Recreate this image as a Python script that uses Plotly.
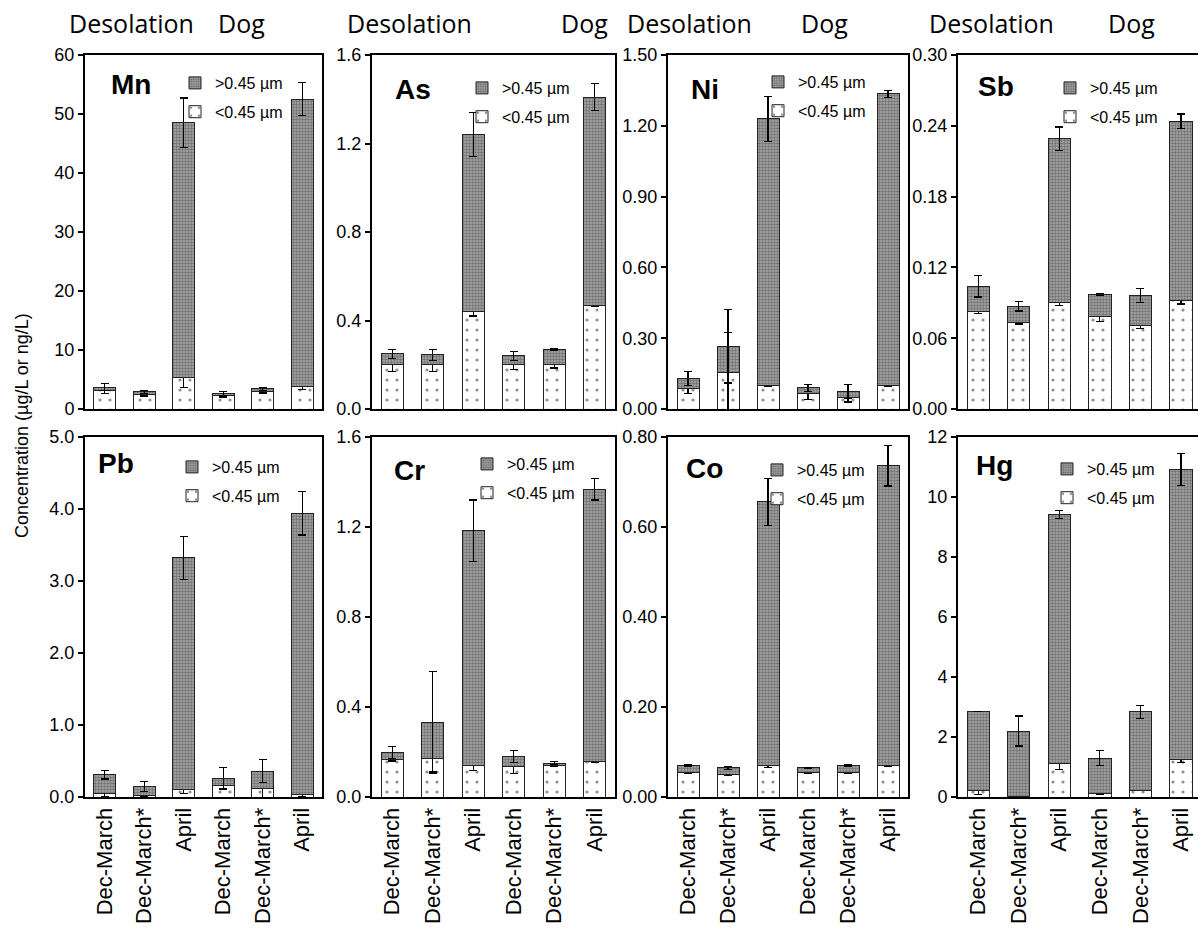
import plotly.graph_objects as go
from plotly.subplots import make_subplots

W, H = 1198, 929

categories = ["Dec-March", "Dec-March*", "April", "Dec-March", "Dec-March*", "April"]
elements = ["Mn", "As", "Ni", "Sb", "Pb", "Cr", "Co", "Hg"]

# <0.45 µm fraction (lower segment) and its error
mn_dis = [3.1, 2.5, 5.3, 2.3, 2.9, 3.8]
mn_dis_err = [0.5, 0.3, 1.6, 0.25, 0.2, 0.5]
# >0.45 µm fraction (upper segment) and error on the total
mn_part = [0.6, 0.4, 43.2, 0.3, 0.5, 48.7]
mn_tot_err = [0.6, 0.3, 4.2, 0.3, 0.2, 2.8]

as_dis = [0.20, 0.20, 0.44, 0.20, 0.20, 0.47]
as_dis_err = [0.03, 0.03, 0.02, 0.02, 0.015, 0.005]
as_part = [0.05, 0.045, 0.80, 0.04, 0.07, 0.94]
as_tot_err = [0.02, 0.025, 0.10, 0.02, 0.003, 0.06]

ni_dis = [0.085, 0.155, 0.10, 0.065, 0.05, 0.10]
ni_dis_err = [0.02, 0.17, 0.005, 0.025, 0.02, 0.005]
ni_part = [0.045, 0.11, 1.13, 0.025, 0.025, 1.235]
ni_tot_err = [0.03, 0.155, 0.095, 0.015, 0.03, 0.015]

sb_dis = [0.083, 0.073, 0.090, 0.078, 0.071, 0.092]
sb_dis_err = [0.002, 0.001, 0.002, 0.004, 0.003, 0.003]
sb_part = [0.021, 0.014, 0.139, 0.019, 0.025, 0.152]
sb_tot_err = [0.009, 0.004, 0.010, 0.001, 0.006, 0.006]

pb_dis = [0.05, 0.02, 0.10, 0.16, 0.12, 0.03]
pb_dis_err = [0.04, 0.02, 0.05, 0.05, 0.14, 0.02]
pb_part = [0.26, 0.13, 3.22, 0.10, 0.24, 3.91]
pb_tot_err = [0.06, 0.07, 0.30, 0.15, 0.16, 0.30]

cr_dis = [0.165, 0.172, 0.139, 0.135, 0.14, 0.157]
cr_dis_err = [0.005, 0.06, 0.02, 0.03, 0.005, 0.003]
cr_part = [0.032, 0.16, 1.044, 0.044, 0.01, 1.211]
cr_tot_err = [0.027, 0.225, 0.137, 0.027, 0.007, 0.048]

co_dis = [0.055, 0.050, 0.0696, 0.055, 0.055, 0.071]
co_dis_err = [0.003, 0.002, 0.004, 0.002, 0.002, 0.002]
co_part = [0.016, 0.015, 0.586, 0.010, 0.016, 0.665]
co_tot_err = [0.002, 0.003, 0.052, 0.001, 0.002, 0.045]

hg_dis = [0.22, 0.03, 1.11, 0.11, 0.22, 1.26]
hg_dis_err = [0.14, 0.01, 0.18, 0.02, 0.01, 0.12]
hg_part = [2.62, 2.17, 8.31, 1.18, 2.62, 9.66]
hg_tot_err = [0.0, 0.5, 0.13, 0.25, 0.21, 0.54]

y_max = [60, 1.6, 1.5, 0.30, 5.0, 1.6, 0.8, 12]
y_step = [10, 0.4, 0.3, 0.06, 1.0, 0.4, 0.2, 2]
y_fmt = ["d", ".1f", ".2f", ".2f", ".1f", ".1f", ".2f", "d"]

series = [
    (mn_dis, mn_dis_err, mn_part, mn_tot_err),
    (as_dis, as_dis_err, as_part, as_tot_err),
    (ni_dis, ni_dis_err, ni_part, ni_tot_err),
    (sb_dis, sb_dis_err, sb_part, sb_tot_err),
    (pb_dis, pb_dis_err, pb_part, pb_tot_err),
    (cr_dis, cr_dis_err, cr_part, cr_tot_err),
    (co_dis, co_dis_err, co_part, co_tot_err),
    (hg_dis, hg_dis_err, hg_part, hg_tot_err),
]

FONT = "Arial, Liberation Sans, sans-serif"

# panel geometry in pixels
col_px = [(85, 322), (372, 615), (668, 908), (958, 1198)]
row_px = [(55, 409), (437, 797)]

fig = make_subplots(rows=2, cols=4)

x = list(range(len(categories)))
for k, (dis, dis_err, part, tot_err) in enumerate(series):
    r, c = divmod(k, 4)
    leg = "legend" if k == 0 else f"legend{k + 1}"
    fig.add_trace(go.Bar(
        x=x, y=dis, name="&lt;0.45 µm", legend=leg, legendgroup=f"d{k}",
        legendrank=2, width=0.55,
        marker=dict(color="white", line=dict(color="#222222", width=1),
                    pattern=dict(shape=".", fgcolor="#222222", bgcolor="white",
                                 size=10, solidity=0.08)),
        error_y=dict(type="data", array=dis_err, color="black", thickness=1.2, width=4),
    ), row=r + 1, col=c + 1)
    fig.add_trace(go.Bar(
        x=x, y=part, name="&gt;0.45 µm", legend=leg, legendgroup=f"p{k}",
        legendrank=1, width=0.55,
        marker=dict(color="#999999", line=dict(color="#222222", width=1),
                    pattern=dict(shape=".", fgcolor="#3a3a3a", bgcolor="#a8a8a8",
                                 size=3, solidity=0.5)),
        error_y=dict(type="data", array=tot_err, color="black", thickness=1.2, width=4),
    ), row=r + 1, col=c + 1)

fig.update_layout(barmode="stack", bargap=0.45)

for k in range(8):
    r, c = divmod(k, 4)
    xa = "xaxis" if k == 0 else f"xaxis{k + 1}"
    ya = "yaxis" if k == 0 else f"yaxis{k + 1}"
    x0, x1 = col_px[c]
    y0, y1 = row_px[r]
    xr = [-0.5, 5.5] if c < 3 else [-0.5, 5.42]
    fig.layout[xa].update(
        domain=[x0 / W, min(x1 / W, 1.0)], range=xr,
        showline=True, linecolor="black", linewidth=2, mirror=True,
        ticks="", tickvals=x, ticktext=categories, tickangle=-90,
        showticklabels=(r == 1), showgrid=False, zeroline=False,
        tickfont=dict(family=FONT, size=22, color="black"), automargin=False,
    )
    fig.layout[ya].update(
        domain=[1 - y1 / H, 1 - y0 / H], range=[0, y_max[k]],
        dtick=y_step[k], tick0=0, tickformat=y_fmt[k],
        showline=True, linecolor="black", linewidth=2, mirror=(c < 3),
        ticks="outside", ticklen=5, tickwidth=1.5, tickcolor="black",
        showgrid=False, zeroline=False,
        tickfont=dict(family=FONT, size=18, color="black"), automargin=False,
    )

# legends inside each panel: (text start x, first row centre y)
legend_pos = [(215, 77), (502, 82), (798, 76), (1090, 82),
              (212, 461), (507, 458), (797, 464), (1087, 463)]
for k, (tx, ty) in enumerate(legend_pos):
    name = "legend" if k == 0 else f"legend{k + 1}"
    fig.layout[name] = dict(
        x=(tx - 40) / W, y=1 - (ty - 11) / H, xanchor="left", yanchor="top",
        bgcolor="rgba(0,0,0,0)", borderwidth=0,
        font=dict(family=FONT, size=16, color="black"),
        traceorder="grouped", tracegroupgap=5,
    )

annotations = []
# element labels
label_pos = [(131, 84), (413, 90), (705, 90), (996, 87),
             (116, 463), (409, 470), (704, 468), (994, 465)]
for name, (lx, ly) in zip(elements, label_pos):
    annotations.append(dict(
        x=lx / W, y=1 - ly / H, xref="paper", yref="paper", text=f"<b>{name}</b>",
        showarrow=False, xanchor="center", yanchor="middle",
        font=dict(family=FONT, size=28, color="black")))

# site headings above the top row
site_pos = [(67, 267), (345, 610), (625, 850), (927, 1157)]
for sx0, sx1 in site_pos:
    annotations.append(dict(
        x=sx0 / W, y=1 - 23 / H, xref="paper", yref="paper", text="Desolation",
        showarrow=False, xanchor="left", yanchor="middle",
        font=dict(family="Open Sans, sans-serif", size=25, color="black")))
    annotations.append(dict(
        x=sx1 / W, y=1 - 23 / H, xref="paper", yref="paper", text="Dog",
        showarrow=False, xanchor="right", yanchor="middle",
        font=dict(family="Open Sans, sans-serif", size=25, color="black")))

annotations.append(dict(
    x=22 / W, y=1 - 426 / H, xref="paper", yref="paper",
    text="Concentration (µg/L or ng/L)", textangle=-90, showarrow=False,
    xanchor="center", yanchor="middle",
    font=dict(family=FONT, size=18, color="black")))

fig.update_layout(
    width=W, height=H, margin=dict(l=0, r=0, t=0, b=0),
    paper_bgcolor="white", plot_bgcolor="white",
    annotations=annotations, showlegend=True,
)

fig.write_html("out.html")
